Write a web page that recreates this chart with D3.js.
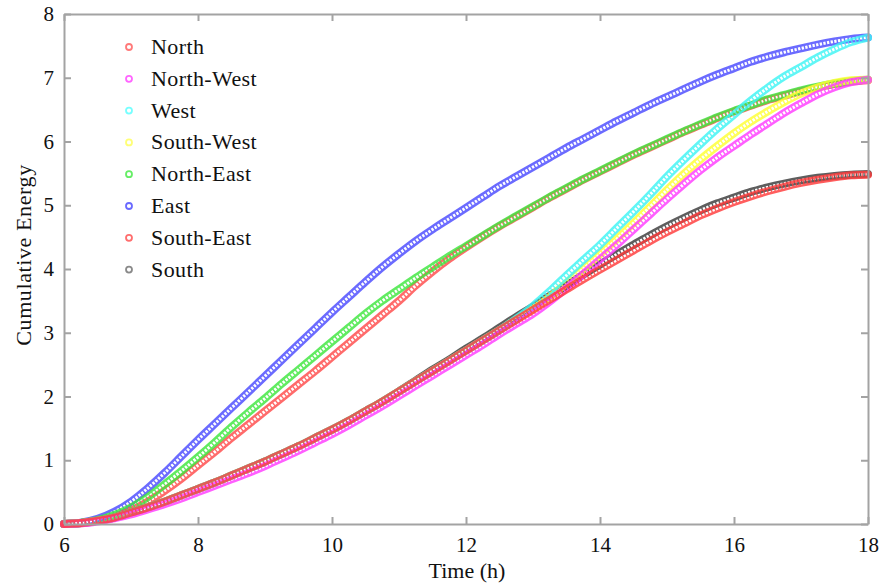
<!DOCTYPE html>
<html>
<head>
<meta charset="utf-8">
<script src="https://cdn.jsdelivr.net/npm/d3@7"></script>
<style>
  body { margin: 0; background: #fff; }
  text { font-family: "Liberation Serif", "Times New Roman", serif; fill: #111; }
</style>
</head>
<body>
<svg id="chart" width="888" height="583"></svg>
<script>
// Sample times (h)
const hours = [6, 6.25, 6.5, 6.75, 7, 7.25, 7.5, 7.75, 8, 8.25, 8.5, 8.75, 9, 9.25, 9.5, 9.75,
  10, 10.25, 10.5, 10.75, 11, 11.25, 11.5, 11.75, 12, 12.25, 12.5, 12.75, 13, 13.25, 13.5, 13.75,
  14, 14.25, 14.5, 14.75, 15, 15.25, 15.5, 15.75, 16, 16.25, 16.5, 16.75, 17, 17.25, 17.5, 17.75, 18];

// Cumulative energy per facade orientation
const north = [0, 0.015, 0.05, 0.1, 0.18, 0.26, 0.35, 0.45, 0.55, 0.65, 0.76, 0.87, 0.98, 1.1, 1.22, 1.35,
  1.48, 1.62, 1.77, 1.92, 2.08, 2.24, 2.4, 2.56, 2.72, 2.88, 3.04, 3.2, 3.36, 3.52, 3.68, 3.84,
  3.99, 4.14, 4.29, 4.44, 4.58, 4.71, 4.84, 4.95, 5.05, 5.14, 5.22, 5.29, 5.35, 5.4, 5.44, 5.47, 5.48];
const northWest = [0, 0.01, 0.04, 0.09, 0.15, 0.23, 0.31, 0.4, 0.5, 0.6, 0.7, 0.8, 0.91, 1.03, 1.15, 1.28,
  1.41, 1.55, 1.7, 1.85, 2.01, 2.17, 2.33, 2.49, 2.65, 2.81, 2.98, 3.14, 3.3, 3.49, 3.7, 3.92,
  4.15, 4.38, 4.62, 4.86, 5.1, 5.33, 5.55, 5.75, 5.93, 6.11, 6.28, 6.45, 6.6, 6.74, 6.85, 6.93, 6.97];
const west = [0, 0.015, 0.05, 0.1, 0.18, 0.26, 0.35, 0.45, 0.55, 0.65, 0.76, 0.87, 0.98, 1.1, 1.22, 1.35,
  1.48, 1.62, 1.77, 1.92, 2.08, 2.24, 2.4, 2.56, 2.72, 2.88, 3.04, 3.22, 3.42, 3.65, 3.9, 4.14,
  4.38, 4.64, 4.9, 5.17, 5.45, 5.71, 5.96, 6.2, 6.42, 6.64, 6.84, 7.02, 7.17, 7.32, 7.45, 7.56, 7.63];
const southWest = [0, 0.015, 0.05, 0.1, 0.18, 0.26, 0.35, 0.45, 0.55, 0.65, 0.76, 0.87, 0.98, 1.1, 1.22, 1.35,
  1.48, 1.62, 1.77, 1.92, 2.08, 2.24, 2.4, 2.56, 2.72, 2.88, 3.04, 3.21, 3.37, 3.56, 3.78, 4.0,
  4.23, 4.47, 4.72, 4.98, 5.24, 5.49, 5.72, 5.93, 6.13, 6.31, 6.47, 6.62, 6.75, 6.85, 6.92, 6.96, 6.97];
const northEast = [0, 0.015, 0.06, 0.14, 0.26, 0.42, 0.62, 0.83, 1.05, 1.28, 1.52, 1.75, 1.97, 2.2, 2.42, 2.64,
  2.86, 3.08, 3.3, 3.5, 3.68, 3.86, 4.03, 4.2, 4.36, 4.52, 4.68, 4.83, 4.98, 5.13, 5.27, 5.41,
  5.54, 5.67, 5.8, 5.92, 6.04, 6.16, 6.27, 6.38, 6.48, 6.57, 6.66, 6.73, 6.8, 6.86, 6.91, 6.95, 6.97];
const east = [0, 0.02, 0.08, 0.19, 0.35, 0.56, 0.8, 1.06, 1.32, 1.57, 1.82, 2.07, 2.32, 2.57, 2.82, 3.07,
  3.32, 3.56, 3.8, 4.03, 4.24, 4.44, 4.62, 4.79, 4.96, 5.13, 5.3, 5.45, 5.6, 5.75, 5.9, 6.04,
  6.18, 6.32, 6.45, 6.58, 6.7, 6.82, 6.94, 7.05, 7.15, 7.25, 7.33, 7.4, 7.46, 7.52, 7.57, 7.61, 7.63];
const southEast = [0, 0.01, 0.05, 0.11, 0.21, 0.35, 0.52, 0.71, 0.92, 1.13, 1.35, 1.56, 1.77, 1.98, 2.19, 2.4,
  2.62, 2.84, 3.06, 3.28, 3.5, 3.74, 3.96, 4.16, 4.34, 4.51, 4.67, 4.82, 4.97, 5.12, 5.26, 5.4,
  5.53, 5.66, 5.79, 5.91, 6.03, 6.15, 6.26, 6.37, 6.47, 6.56, 6.65, 6.72, 6.79, 6.85, 6.9, 6.94, 6.96];
const south = [0, 0.015, 0.05, 0.1, 0.18, 0.26, 0.35, 0.45, 0.55, 0.65, 0.76, 0.87, 0.98, 1.1, 1.22, 1.35,
  1.48, 1.62, 1.77, 1.92, 2.08, 2.25, 2.42, 2.58, 2.75, 2.91, 3.08, 3.25, 3.41, 3.58, 3.74, 3.91,
  4.07, 4.23, 4.38, 4.53, 4.67, 4.8, 4.92, 5.03, 5.12, 5.21, 5.28, 5.34, 5.39, 5.43, 5.46, 5.48, 5.49];

const seriesNames = ["North", "North-West", "West", "South-West", "North-East", "East", "South-East", "South"];
const seriesValues = [north, northWest, west, southWest, northEast, east, southEast, south];

const xTicks = [6, 8, 10, 12, 14, 16, 18];
const yTicks = [0, 1, 2, 3, 4, 5, 6, 7, 8];

// Styling
const curveColor = {
  "North": "#ff3a3a", "North-West": "#ff3cff", "West": "#3ef4f4", "South-West": "#ffff33",
  "North-East": "#3ee63e", "East": "#4a4aff", "South-East": "#ff4a4a", "South": "#3a3a3a"
};
const legendColor = {
  "North": "#ff7a7a", "North-West": "#ff66ff", "West": "#77ffff", "South-West": "#ffff77",
  "North-East": "#66ee66", "East": "#6a6aff", "South-East": "#ff6e6e", "South": "#8a8a8a"
};
// Painting order (bottom to top)
const drawOrder = ["East", "South-East", "North-East", "South", "South-West", "West", "North-West", "North"];

const W = 888, H = 583;
const plot = { left: 64, right: 868, top: 14, bottom: 524 };

const svg = d3.select("#chart");
const x = d3.scaleLinear().domain([6, 18]).range([plot.left, plot.right]);
const y = d3.scaleLinear().domain([0, 8]).range([plot.bottom, plot.top]);

const axisColor = "#a3a3a3";

// Series drawn as chains of open circle markers
const line = d3.line()
  .x(d => x(d[0]))
  .y(d => y(d[1]))
  .curve(d3.curveMonotoneX);

const defs = svg.append("defs");
const seriesLayer = svg.append("g");

drawOrder.forEach((name, k) => {
  const vals = seriesValues[seriesNames.indexOf(name)];
  const pts = hours.map((h, i) => [h, vals[i]]);
  const d = line(pts);
  const maskId = "ring-mask-" + k;
  const m = defs.append("mask")
    .attr("id", maskId)
    .attr("maskUnits", "userSpaceOnUse")
    .attr("x", 0).attr("y", 0).attr("width", W).attr("height", H);
  m.append("rect").attr("x", 0).attr("y", 0).attr("width", W).attr("height", H).attr("fill", "#fff");
  m.append("path").attr("d", d)
    .attr("fill", "none").attr("stroke", "#000")
    .attr("stroke-width", 3)
    .attr("stroke-dasharray", "2.3 1.4");
  seriesLayer.append("path")
    .attr("d", d)
    .attr("fill", "none")
    .attr("stroke", curveColor[name])
    .attr("stroke-width", 8)
    .attr("stroke-opacity", 0.82)
    .attr("stroke-linecap", "round")
    .attr("mask", `url(#${maskId})`);
});

// Axes box with inward ticks on all four sides
function styleAxis(g) {
  g.selectAll(".domain").attr("stroke", axisColor).attr("stroke-width", 2);
  g.selectAll(".tick line").attr("stroke", axisColor).attr("stroke-width", 2);
  g.selectAll(".tick text")
    .style("font-family", '"Liberation Serif", "Times New Roman", serif')
    .style("font-size", "21px")
    .attr("fill", "#111");
}

svg.append("g")
  .attr("transform", `translate(0,${plot.bottom})`)
  .call(d3.axisBottom(x).tickValues(xTicks).tickSizeInner(-7).tickSizeOuter(0).tickPadding(13))
  .call(styleAxis);

svg.append("g")
  .attr("transform", `translate(0,${plot.top})`)
  .call(d3.axisTop(x).tickValues(xTicks).tickSizeInner(-7).tickSizeOuter(0).tickFormat(""))
  .call(styleAxis);

svg.append("g")
  .attr("transform", `translate(${plot.left},0)`)
  .call(d3.axisLeft(y).tickValues(yTicks).tickSizeInner(-7).tickSizeOuter(0).tickPadding(10))
  .call(styleAxis);

svg.append("g")
  .attr("transform", `translate(${plot.right},0)`)
  .call(d3.axisRight(y).tickValues(yTicks).tickSizeInner(-7).tickSizeOuter(0).tickFormat(""))
  .call(styleAxis);

// Axis titles
svg.append("text")
  .attr("x", (plot.left + plot.right) / 2 + 1)
  .attr("y", 578)
  .attr("text-anchor", "middle")
  .style("font-size", "22px")
  .text("Time (h)");

svg.append("text")
  .attr("transform", `translate(31,${(plot.top + plot.bottom) / 2 - 14}) rotate(-90)`)
  .attr("text-anchor", "middle")
  .style("font-size", "22px")
  .style("letter-spacing", "0.6px")
  .text("Cumulative Energy");

// Legend
const legend = svg.append("g").attr("transform", "translate(129,47)");
seriesNames.forEach((name, i) => {
  const row = legend.append("g").attr("transform", `translate(0,${i * 31.8})`);
  row.append("circle")
    .attr("r", 3)
    .attr("fill", "none")
    .attr("stroke", legendColor[name])
    .attr("stroke-width", 1.8);
  row.append("text")
    .attr("x", 22)
    .attr("y", 7)
    .style("font-size", "22px")
    .style("letter-spacing", "0.4px")
    .text(name);
});
</script>
</body>
</html>
